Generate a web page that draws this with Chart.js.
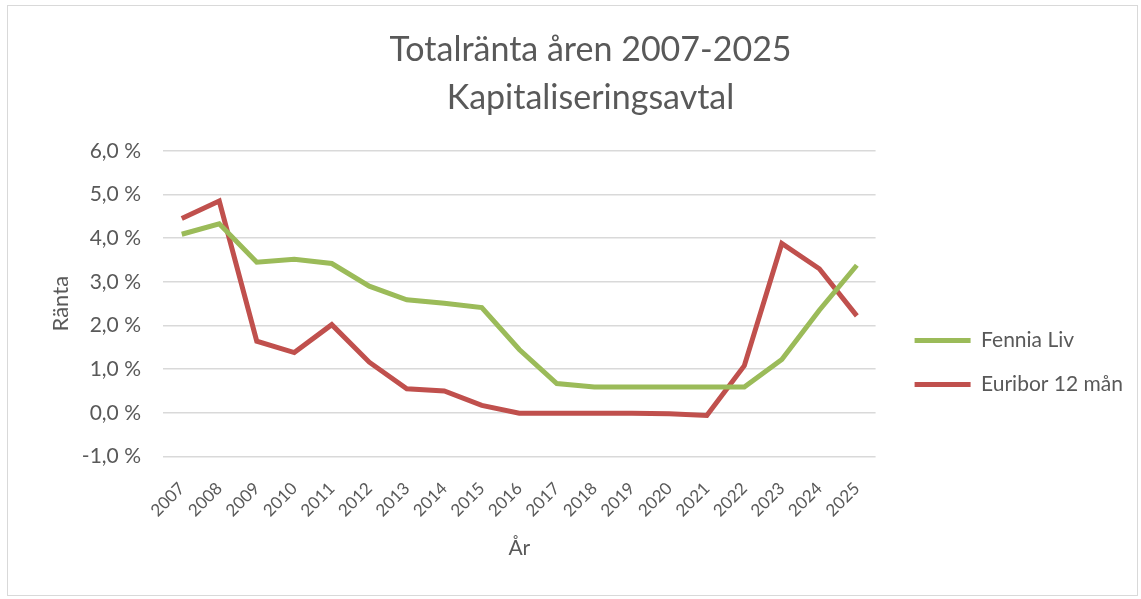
<!DOCTYPE html>
<html>
<head>
<meta charset="utf-8">
<script src="https://cdn.jsdelivr.net/npm/chart.js@4"></script>
<style>
  body { margin: 0; background: #fff; }
  #frame { position: absolute; left: 7px; top: 5px; width: 1129px; height: 589px; border: 1px solid #d9d9d9; }
  #wrap { position: absolute; left: 0; top: 0; width: 1141px; height: 599px; }
</style>
</head>
<body>
<div id="frame"></div>
<div id="wrap"><canvas id="LineChart"></canvas></div>
<script>
var years = ["2007", "2008", "2009", "2010", "2011", "2012", "2013", "2014", "2015", "2016",
             "2017", "2018", "2019", "2020", "2021", "2022", "2023", "2024", "2025"];
var fenniaLiv = [4.09, 4.33, 3.45, 3.52, 3.42, 2.90, 2.59, 2.51, 2.41, 1.45,
                 0.67, 0.59, 0.59, 0.59, 0.59, 0.59, 1.22, 2.35, 3.38];
var euribor12 = [4.45, 4.85, 1.64, 1.38, 2.02, 1.16, 0.55, 0.50, 0.17, -0.01,
                 -0.01, -0.01, -0.01, -0.02, -0.06, 1.08, 3.88, 3.30, 2.22];
var seriesNames = ["Fennia Liv", "Euribor 12 mån"];
var lineColors = ["#9bbb59", "#c0504d"];

var textColor = "#595959";
var fontName = "Lato";

var ctx = document.getElementById("LineChart").getContext("2d");
var myChart = new Chart(ctx, {
    type: "line",
    data: {
        labels: years,
        datasets: [
            {
                label: seriesNames[0],
                data: fenniaLiv,
                borderColor: lineColors[0],
                backgroundColor: lineColors[0],
                borderWidth: 5,
                pointRadius: 0,
                tension: 0
            },
            {
                label: seriesNames[1],
                data: euribor12,
                borderColor: lineColors[1],
                backgroundColor: lineColors[1],
                borderWidth: 5,
                pointRadius: 0,
                tension: 0
            }
        ]
    },
    options: {
        responsive: true,
        maintainAspectRatio: false,
        animation: false,
        layout: {
            padding: { left: 48, right: 8, top: 20, bottom: 38 }
        },
        plugins: {
            title: {
                display: true,
                text: ["Totalränta åren 2007-2025", "Kapitaliseringsavtal"],
                color: textColor,
                font: { family: fontName, size: 34, weight: "normal", lineHeight: 1.41 },
                padding: { top: 6, bottom: 29 }
            },
            legend: {
                position: "right",
                align: "center",
                maxWidth: 260,
                // empty title only pushes the entries down, like the Excel legend
                title: { display: true, text: "", font: { size: 10, lineHeight: 1 }, padding: { top: 0, bottom: 134 } },
                labels: {
                    color: textColor,
                    font: { family: fontName, size: 21 },
                    boxWidth: 56,
                    boxHeight: 5,
                    padding: 23,
                    generateLabels: function (chart) {
                        var items = Chart.defaults.plugins.legend.labels.generateLabels(chart);
                        items.forEach(function (it) { it.lineWidth = 0; });
                        return items;
                    }
                }
            },
            tooltip: { enabled: false }
        },
        scales: {
            x: {
                offset: true,
                // invisible tick marks just to push the year labels down
                grid: { display: true, color: "rgba(0,0,0,0)", drawOnChartArea: false, drawTicks: true, tickLength: 14 },
                border: { display: false },
                ticks: {
                    color: textColor,
                    font: { family: fontName, size: 17 },
                    maxRotation: 45,
                    minRotation: 45,
                    padding: 8
                },
                title: {
                    display: true,
                    text: "År",
                    color: textColor,
                    font: { family: fontName, size: 21 },
                    padding: { top: 7, bottom: 0 }
                }
            },
            y: {
                min: -1,
                max: 6,
                afterFit: function (scale) { scale.width = 115; },
                ticks: {
                    stepSize: 1,
                    color: textColor,
                    font: { family: fontName, size: 21 },
                    padding: 22,
                    callback: function (v) { return v.toFixed(1).replace(".", ",") + "\u00a0%"; }
                },
                grid: { color: "#d9d9d9", lineWidth: 1.5, drawTicks: false },
                border: { display: false },
                title: {
                    display: true,
                    text: "Ränta",
                    color: textColor,
                    font: { family: fontName, size: 22 },
                    padding: { top: 0, bottom: 16 }
                }
            },
            gap: {
                // empty spacer between plot and legend
                position: "right",
                afterFit: function (scale) { scale.width = 16; },
                grid: { display: false },
                border: { display: false },
                ticks: { display: false }
            }
        }
    }
});
</script>
</body>
</html>
